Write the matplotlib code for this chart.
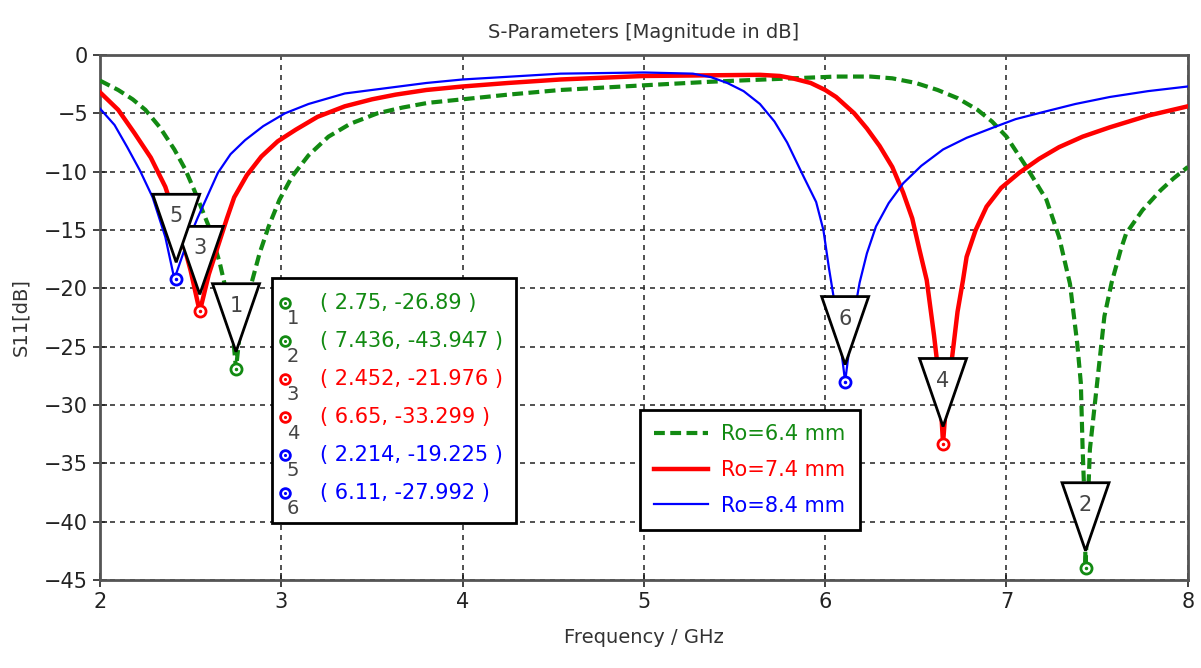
import matplotlib
matplotlib.use("Agg")
import matplotlib.pyplot as plt
import matplotlib.transforms as mtransforms
from matplotlib.patches import Polygon, Rectangle

# S11 curves (frequency in GHz, magnitude in dB)
freq_64 = [2.00, 2.10, 2.18, 2.25, 2.33, 2.41, 2.47, 2.52, 2.60, 2.66, 2.70, 2.73, 2.75,
           2.78, 2.84, 2.88, 2.93, 2.99, 3.06, 3.15, 3.26, 3.38, 3.53, 3.67, 3.81,
           4.00, 4.25, 4.54, 5.00, 5.36, 5.82, 6.06, 6.25, 6.37, 6.50, 6.62, 6.73,
           6.84, 6.92, 7.00, 7.11, 7.22, 7.29, 7.35, 7.39, 7.41, 7.42, 7.43, 7.436,
           7.45, 7.46, 7.50, 7.54, 7.58, 7.63, 7.66, 7.75, 7.85, 7.92, 8.00]
s11_64 = [-2.2, -3.0, -3.8, -4.7, -6.2, -8.1, -9.8, -11.6, -14.7, -17.8, -20.5, -23.5, -26.9,
          -22.5, -19.3, -17.0, -14.7, -12.4, -10.4, -8.6, -7.0, -5.9, -5.0, -4.5, -4.1,
          -3.8, -3.4, -3.0, -2.6, -2.3, -2.0, -1.85, -1.85, -2.0, -2.4, -3.0, -3.7,
          -4.7, -5.7, -7.0, -9.6, -12.4, -15.6, -19.6, -24.7, -28.1, -33.8, -38.0, -43.9,
          -38.0, -33.8, -28.1, -22.4, -19.5, -16.7, -15.3, -13.3, -11.6, -10.6, -9.6]

freq_74 = [2.00, 2.10, 2.19, 2.28, 2.36, 2.45, 2.50, 2.55, 2.60, 2.65, 2.70, 2.74, 2.81,
           2.89, 2.98, 3.08, 3.20, 3.35, 3.50, 3.63, 3.80, 4.00, 4.25, 4.54, 5.00,
           5.64, 5.75, 5.82, 5.92, 6.00, 6.06, 6.16, 6.23, 6.30, 6.37, 6.43, 6.48,
           6.52, 6.56, 6.60, 6.63, 6.65, 6.67, 6.70, 6.73, 6.76, 6.78, 6.83, 6.89,
           6.97, 7.07, 7.18, 7.29, 7.42, 7.57, 7.78, 8.00]
s11_74 = [-3.2, -4.7, -6.7, -8.8, -11.3, -15.6, -18.5, -22.0, -18.8, -16.4, -14.0, -12.2, -10.3,
          -8.7, -7.4, -6.4, -5.3, -4.4, -3.8, -3.4, -3.0, -2.7, -2.4, -2.1, -1.8,
          -1.7, -1.8, -2.0, -2.4, -3.0, -3.6, -5.0, -6.3, -7.8, -9.6, -11.8, -14.0,
          -16.7, -19.3, -24.0, -28.0, -33.3, -29.0, -25.9, -22.0, -19.3, -17.3, -15.0, -13.0,
          -11.4, -10.1, -8.9, -7.9, -7.0, -6.2, -5.2, -4.4]

freq_84 = [2.00, 2.08, 2.15, 2.22, 2.29, 2.36, 2.41, 2.47, 2.54, 2.65, 2.72, 2.80, 2.90,
           3.02, 3.15, 3.35, 3.60, 3.80, 4.00, 4.54, 5.00, 5.27, 5.37, 5.46, 5.55,
           5.64, 5.72, 5.79, 5.88, 5.95, 5.99, 6.02, 6.07, 6.11, 6.15, 6.19, 6.23,
           6.28, 6.35, 6.43, 6.53, 6.65, 6.78, 6.93, 7.05, 7.20, 7.38, 7.57, 7.78, 8.00]
s11_84 = [-4.6, -6.0, -7.9, -9.9, -12.2, -15.6, -19.2, -16.5, -13.9, -10.1, -8.5, -7.3, -6.1,
          -5.0, -4.2, -3.3, -2.8, -2.4, -2.1, -1.6, -1.5, -1.6, -1.9, -2.4, -3.1,
          -4.2, -5.7, -7.5, -10.4, -12.6, -15.0, -18.2, -23.0, -28.0, -23.0, -19.5, -17.0,
          -14.7, -12.7, -11.0, -9.5, -8.1, -7.1, -6.2, -5.5, -4.9, -4.2, -3.6, -3.1, -2.7]

series_labels = ["Ro=6.4 mm", "Ro=7.4 mm", "Ro=8.4 mm"]

# markers: where they sit on the plot and what the marker table says
marker_ids = ["1", "2", "3", "4", "5", "6"]
marker_x = [2.75, 7.436, 2.55, 6.65, 2.42, 6.11]
marker_y = [-26.89, -43.947, -21.976, -33.299, -19.225, -27.992]
marker_text = ["( 2.75, -26.89 )", "( 7.436, -43.947 )", "( 2.452, -21.976 )",
               "( 6.65, -33.299 )", "( 2.214, -19.225 )", "( 6.11, -27.992 )"]

green = "#128a12"
red = "#ff0000"
blue = "#0000ff"
marker_colors = [green, green, red, red, blue, blue]
num_color = "#454545"

fig = plt.figure(figsize=(12.01, 6.68), dpi=100)
ax = fig.add_axes([0.0833, 0.1317, 0.9057, 0.786])

ax.plot(freq_64, s11_64, color=green, lw=3.0, ls="--", dashes=(2.6, 1.3), label=series_labels[0], zorder=3)
ax.plot(freq_74, s11_74, color=red, lw=3.2, label=series_labels[1], zorder=3)
ax.plot(freq_84, s11_84, color=blue, lw=1.6, label=series_labels[2], zorder=3)

ax.set_xlim(2, 8)
ax.set_ylim(-45, 0)
ax.set_xticks(range(2, 9))
ax.set_yticks(range(-45, 1, 5))
ax.grid(True, color="#333333", ls=(0, (3, 3)), lw=1.2)
ax.tick_params(direction="inout", length=10, width=1.2, labelsize=15, colors="#222222")
for sp in ax.spines.values():
    sp.set_color("#555555")
    sp.set_linewidth(2)

ax.set_title("S-Parameters [Magnitude in dB]", fontsize=14, color="#333333", pad=12)
ax.set_xlabel("Frequency / GHz", fontsize=14, color="#333333", labelpad=12)
ax.set_ylabel("S11[dB]", fontsize=14, color="#333333", labelpad=10)

# triangle flags above each marker, sized in inches around the data point
for i in range(len(marker_ids)):
    trans = fig.dpi_scale_trans + mtransforms.ScaledTranslation(marker_x[i], marker_y[i], ax.transData)
    tri = Polygon([(0, 0.17), (-0.235, 0.85), (0.235, 0.85)], closed=True,
                  facecolor="white", edgecolor="black", lw=2, transform=trans, zorder=5)
    ax.add_patch(tri)
    ax.text(0, 0.63, marker_ids[i], transform=trans, ha="center", va="center",
            fontsize=15, color=num_color, zorder=6)
    ax.plot(marker_x[i], marker_y[i], "o", ms=8, mfc="white", mec=marker_colors[i], mew=2, zorder=6)
    ax.plot(marker_x[i], marker_y[i], ".", ms=3, color=marker_colors[i], zorder=7)

# marker table
ax.add_patch(Rectangle((0.158, 0.1086), 0.224, 0.4664, transform=ax.transAxes,
                       facecolor="white", edgecolor="black", lw=2, zorder=8))
row_y = [0.528, 0.455, 0.383, 0.310, 0.238, 0.166]
for i in range(len(marker_ids)):
    ax.plot(0.170, row_y[i], "o", ms=7, mfc="white", mec=marker_colors[i], mew=2,
            transform=ax.transAxes, zorder=9)
    ax.plot(0.170, row_y[i], ".", ms=2.5, color=marker_colors[i], transform=ax.transAxes, zorder=10)
    ax.text(0.1775, row_y[i] - 0.03, marker_ids[i], transform=ax.transAxes, ha="center",
            va="center", fontsize=14, color=num_color, zorder=10)
    ax.text(0.202, row_y[i], marker_text[i], transform=ax.transAxes, ha="left",
            va="center", fontsize=15, color=marker_colors[i], zorder=10)

leg = ax.legend(loc="lower left", bbox_to_anchor=(0.496, 0.095), borderaxespad=0,
                fontsize=15, labelcolor="linecolor", fancybox=False, edgecolor="black",
                framealpha=1, handlelength=2.6, handletextpad=0.6, labelspacing=0.75,
                borderpad=0.7)
leg.get_frame().set_linewidth(2)
leg.set_zorder(10)

fig.savefig("out.png", dpi=100)
